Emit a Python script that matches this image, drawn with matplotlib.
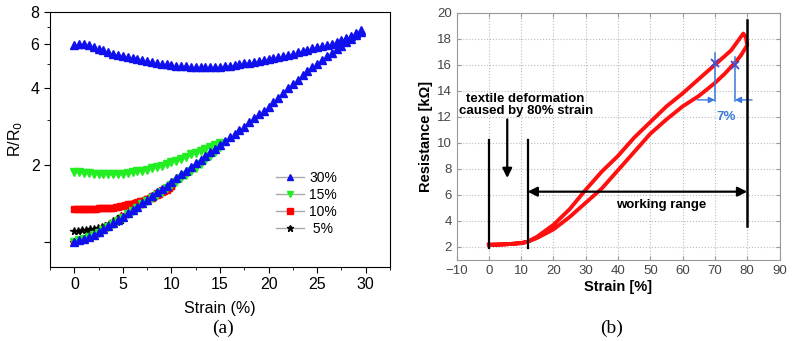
import numpy as np
import matplotlib
matplotlib.use("Agg")
import matplotlib.pyplot as plt
from matplotlib.lines import Line2D

plt.rcParams['font.family'] = ['Liberation Sans', 'DejaVu Sans']

# -----------------------
# (a) R/R0 vs strain, log scale
# -----------------------
x30_up = np.arange(0, 30, 0.5)
y30_up = [1.00, 1.01, 1.02, 1.04, 1.06, 1.09, 1.12, 1.15, 1.18, 1.21,
          1.25, 1.29, 1.33, 1.37, 1.42, 1.46, 1.51, 1.56, 1.61, 1.66,
          1.72, 1.78, 1.84, 1.90, 1.96, 2.03, 2.10, 2.17, 2.24, 2.32,
          2.40, 2.48, 2.57, 2.65, 2.74, 2.83, 2.94, 3.05, 3.16, 3.27,
          3.39, 3.53, 3.68, 3.84, 4.00, 4.16, 4.33, 4.50, 4.67, 4.84,
          5.01, 5.18, 5.35, 5.52, 5.70, 5.88, 6.07, 6.27, 6.47, 6.66]
x30_down = np.arange(29.5, -0.1, -0.5)
y30_down = [6.82, 6.62, 6.44, 6.30, 6.18, 6.08, 6.00, 5.94, 5.88, 5.82,
            5.75, 5.69, 5.62, 5.55, 5.48, 5.42, 5.36, 5.30, 5.25, 5.20,
            5.16, 5.12, 5.09, 5.06, 5.02, 4.98, 4.95, 4.92, 4.90, 4.88,
            4.87, 4.87, 4.87, 4.87, 4.87, 4.88, 4.89, 4.90, 4.92, 4.94,
            4.97, 5.00, 5.04, 5.08, 5.12, 5.16, 5.21, 5.26, 5.31, 5.37,
            5.43, 5.49, 5.56, 5.65, 5.74, 5.84, 5.93, 6.00, 6.00, 5.93]

x15_up = np.arange(0, 15.1, 0.5)
y15_up = [1.00, 1.01, 1.02, 1.04, 1.06, 1.08, 1.11, 1.14, 1.17, 1.20,
          1.24, 1.28, 1.32, 1.36, 1.40, 1.44, 1.48, 1.53, 1.57, 1.62,
          1.67, 1.72, 1.77, 1.83, 1.89, 1.95, 2.02, 2.09, 2.17, 2.26, 2.36]
x15_down = np.arange(15, -0.1, -0.5)
y15_down = [2.44, 2.39, 2.35, 2.31, 2.27, 2.23, 2.20, 2.16, 2.12, 2.08,
            2.05, 2.02, 1.99, 1.96, 1.94, 1.92, 1.90, 1.89, 1.87, 1.86,
            1.85, 1.85, 1.84, 1.84, 1.84, 1.84, 1.85, 1.86, 1.86, 1.87, 1.88]

x10_up = np.arange(0, 10.1, 0.5)
y10_up = [1.00, 1.01, 1.02, 1.04, 1.06, 1.09, 1.12, 1.15, 1.18, 1.22,
          1.26, 1.30, 1.34, 1.38, 1.43, 1.47, 1.51, 1.55, 1.59, 1.62, 1.65]
x10_down = np.arange(10, -0.1, -0.25)
y10_down = [1.65, 1.62, 1.60, 1.58, 1.56, 1.54, 1.52, 1.51, 1.49, 1.48,
            1.47, 1.46, 1.45, 1.44, 1.43, 1.42, 1.41, 1.40, 1.40, 1.39,
            1.38, 1.38, 1.37, 1.37, 1.36, 1.36, 1.36, 1.35, 1.35, 1.35,
            1.35, 1.34, 1.34, 1.34, 1.34, 1.34, 1.34, 1.34, 1.34, 1.34, 1.34]

x5_up = np.arange(0, 5.1, 0.4)
y5_up = [1.00, 1.01, 1.02, 1.04, 1.06, 1.08, 1.10, 1.12, 1.15, 1.17, 1.20, 1.23, 1.26]
x5_down = np.arange(4.8, -0.1, -0.4)
y5_down = [1.21, 1.19, 1.18, 1.16, 1.15, 1.14, 1.13, 1.12, 1.12, 1.11, 1.11, 1.10, 1.10]

# -----------------------
# (b) resistance vs strain hysteresis
# -----------------------
load_x = [0, 5, 10, 12, 15, 20, 25, 30, 35, 40, 45, 50, 55, 60, 65, 70, 75, 78.8]
load_y = [2.2, 2.2, 2.3, 2.4, 2.8, 3.7, 4.9, 6.4, 7.8, 9.0, 10.4, 11.6, 12.8,
          13.8, 14.9, 16.0, 17.1, 18.4]
unload_x = [79.6, 80, 78, 76, 73, 70, 65, 60, 55, 50, 45, 40, 35, 30, 25, 20,
            15, 12, 10, 5, 0]
unload_y = [18.1, 17.5, 16.7, 16.1, 15.3, 14.6, 13.6, 12.8, 11.8, 10.7, 9.3,
            7.9, 6.5, 5.4, 4.3, 3.35, 2.7, 2.4, 2.3, 2.2, 2.15]

fig = plt.figure(figsize=(7.93, 3.41), dpi=100)

# ---- panel a ----
ax = fig.add_axes([0.0631, 0.217, 0.4287, 0.748])
ms = 5.3
ax.plot(x5_up, y5_up, '*', color='black', ms=ms, ls='none')
ax.plot(x5_down, y5_down, '*', color='black', ms=ms, ls='none')
ax.plot(x10_up, y10_up, 's', color='red', ms=4.4, ls='none')
ax.plot(x10_down, y10_down, 's', color='red', ms=4.4, ls='none')
ax.plot(x15_up, y15_up, 'v', color='#22ee22', ms=ms, ls='none')
ax.plot(x15_down, y15_down, 'v', color='#22ee22', ms=ms, ls='none')
ax.plot(x30_up, y30_up, '^', color='#1010ee', ms=ms, ls='none')
ax.plot(x30_down, y30_down, '^', color='#1010ee', ms=ms, ls='none')

ax.set_yscale('log')
ax.set_ylim(0.794, 8)
ax.set_xlim(-2.5, 32.5)
ax.set_yticks([1, 2, 4, 6, 8])
ax.set_yticklabels(['', '2', '4', '6', '8'])
ax.set_yticks([3, 5, 7], minor=True)
ax.yaxis.set_minor_formatter(matplotlib.ticker.NullFormatter())
ax.set_xticks([0, 5, 10, 15, 20, 25, 30])
ax.set_xticks(np.arange(-2.5, 32.6, 2.5), minor=True)
ax.tick_params(which='both', direction='out', labelsize=11.5, top=False, right=False)
ax.tick_params(which='major', length=4)
ax.tick_params(which='minor', length=2.5)
ax.set_xlabel('Strain (%)', fontsize=11.5, labelpad=6)
ax.set_ylabel('R/R$_0$', fontsize=11.5, labelpad=4)

handles = [
    Line2D([], [], color='#aaaaaa', lw=1, marker='^', mfc='#1010ee', mec='#1010ee', ms=5),
    Line2D([], [], color='#aaaaaa', lw=1, marker='v', mfc='#22ee22', mec='#22ee22', ms=5),
    Line2D([], [], color='#aaaaaa', lw=1, marker='s', mfc='red', mec='red', ms=4.2),
    Line2D([], [], color='#aaaaaa', lw=1, marker='*', mfc='black', mec='black', ms=5),
]
ax.legend(handles, ['30%', '15%', '10%', ' 5%'], loc='upper left',
          bbox_to_anchor=(0.665, 0.375), frameon=False, fontsize=10,
          handlelength=2.0, handletextpad=0.4, labelspacing=0.2,
          borderaxespad=0, borderpad=0)

fig.text(0.281, 0.038, '(a)', fontsize=14, family='Liberation Serif',
         ha='center', va='center')

# ---- panel b ----
bx = fig.add_axes([0.5757, 0.2375, 0.4073, 0.7253])
bx.plot(load_x + unload_x, load_y + unload_y, color='#ff1010', lw=2.8,
        solid_joinstyle='round', zorder=3)
bx.set_xlim(-10, 90)
bx.set_ylim(1, 20)
bx.set_xticks(range(-10, 91, 10))
bx.set_yticks(range(2, 21, 2))
bx.grid(True, linestyle=':', color='#bbbbbb', lw=0.8)
for s in bx.spines.values():
    s.set_color('#999999')
bx.tick_params(direction='in', length=3, colors='#999999', labelcolor='#444444',
               labelsize=9.5, top=True, right=True)
bx.set_xlabel('Strain [%]', fontsize=10.5, fontweight='bold', labelpad=2)
bx.set_ylabel('Resistance [k\u03a9]', fontsize=10.5, fontweight='bold', labelpad=3)

# black markers and arrows
bx.plot([0, 0], [1.95, 10.2], color='black', lw=1.6, zorder=4)
bx.plot([12, 12], [1.95, 10.2], color='black', lw=1.6, zorder=4)
bx.plot([80, 80], [3.6, 19.4], color='black', lw=1.8, zorder=4)
bx.annotate('', xy=(12, 6.25), xytext=(80, 6.25),
            arrowprops=dict(arrowstyle='<|-|>', color='black', lw=1.6,
                            mutation_scale=14, shrinkA=0, shrinkB=0), zorder=4)
bx.annotate('', xy=(5.7, 7.3), xytext=(5.7, 11.8),
            arrowprops=dict(arrowstyle='-|>', color='black', lw=1.6,
                            mutation_scale=14, shrinkA=0, shrinkB=0), zorder=4)
bx.text(11.4, 12.9, 'textile deformation\ncaused by 80% strain', ha='center',
        va='center', fontsize=9.5, fontweight='bold', linespacing=1.05)
bx.text(53.3, 5.2, 'working range', ha='center', va='center', fontsize=9.5,
        fontweight='bold')

# blue 7% annotation
blue = '#3a78dd'
bx.plot([70, 70], [13.2, 16.9], color=blue, lw=1.1, zorder=4)
bx.plot([76.2, 76.2], [13.2, 16.6], color=blue, lw=1.1, zorder=4)
bx.plot([70, 76.2], [16.1, 16.0], 'x', color='#4a4acc', ms=6, mew=1.3, zorder=5)
bx.annotate('', xy=(70, 13.3), xytext=(64.5, 13.3),
            arrowprops=dict(arrowstyle='-|>', color=blue, lw=1.0,
                            mutation_scale=9, shrinkA=0, shrinkB=0))
bx.annotate('', xy=(76.2, 13.3), xytext=(81.5, 13.3),
            arrowprops=dict(arrowstyle='-|>', color=blue, lw=1.0,
                            mutation_scale=9, shrinkA=0, shrinkB=0))
bx.text(73.3, 12.0, '7%', color=blue, ha='center', va='center', fontsize=9.5,
        fontweight='bold')

fig.text(0.771, 0.038, '(b)', fontsize=14, family='Liberation Serif',
         ha='center', va='center')

fig.savefig('out.png', dpi=100)
